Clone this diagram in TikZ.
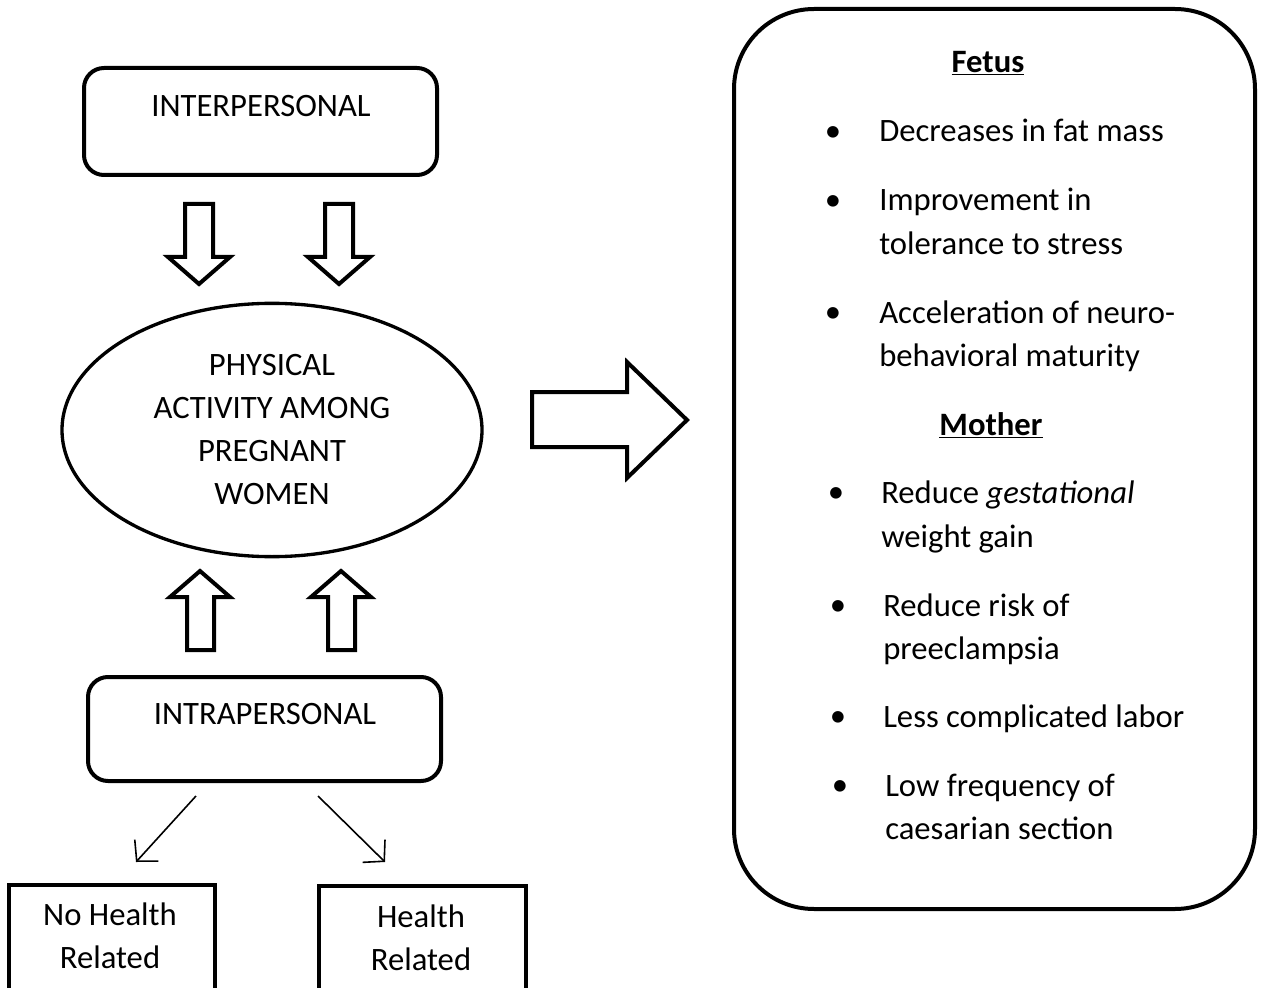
\documentclass[tikz,border=0pt]{standalone}
\usepackage{fontspec}
\setmainfont{Carlito}
\usetikzlibrary{arrows.meta,shapes.geometric,fit}
\begin{document}
\begin{tikzpicture}[x=0.75pt,y=-0.75pt,
  every node/.style={font=\fontsize{24.5}{32.25}\selectfont, inner sep=0pt},
  rbox/.style={draw, line width=3pt, rounded corners=15pt, inner sep=0pt},
  sbox/.style={draw, line width=3pt, inner sep=0pt},
  bigbox/.style={draw, line width=3pt, rounded corners=60pt, inner sep=0pt},
  blockarrow/.style={draw, line width=3pt, fill=white, line join=miter},
  thinarrow/.style={line width=1.2pt, -{Straight Barb[length=11pt,width=24pt,line width=1.2pt]}},
  item/.style={anchor=base west},
  bul/.style={anchor=center}]
\useasboundingbox (0,0) rectangle (1261,988);

% left column boxes
\node[rbox, fit={(84,68) (437,175)}] (inter) {};
\node (intertext) at (261,106) {INTERPERSONAL};

\node[draw, ellipse, line width=2.5pt, minimum width=315pt, minimum height=190pt, align=center] (pa) at (272,430)
  {PHYSICAL\\ACTIVITY AMONG\\PREGNANT\\WOMEN};

\node[rbox, fit={(88,677) (441,781)}] (intra) {};
\node (intratext) at (265,714) {INTRAPERSONAL};

\node[sbox, fit={(9,885) (215,1010)}] (nohealth) {};
\node[align=center] (nohealthtext) at (110,936) {No Health\\Related};
\node[sbox, fit={(319,886) (526,1010)}] (health) {};
\node[align=center] (healthtext) at (421,938) {Health\\Related};

% block arrows down
\draw[blockarrow] (185,204) -- (213,204) -- (213,257) -- (230,257) -- (199,284) -- (168,257) -- (185,257) -- cycle;
\draw[blockarrow] (325,204) -- (353,204) -- (353,257) -- (370,257) -- (339,284) -- (308,257) -- (325,257) -- cycle;
% block arrows up
\draw[blockarrow] (187,650) -- (214,650) -- (214,597) -- (230,597) -- (200,571) -- (170,597) -- (187,597) -- cycle;
\draw[blockarrow] (328,650) -- (355,650) -- (355,597) -- (371,597) -- (341,571) -- (311,597) -- (328,597) -- cycle;

% thin arrows
\coordinate (l1) at (196,796);
\coordinate (l2) at (136,862);
\coordinate (r1) at (318,796);
\coordinate (r2) at (385,862);
\draw[thinarrow] (l1) -- (l2);
\draw[thinarrow] (r1) -- (r2);

% big right arrow
\draw[blockarrow] (532,392) -- (627,392) -- (627,362) -- (687,420) -- (627,478) -- (627,447) -- (532,447) -- cycle;

% right box
\node[bigbox, fit={(734,9) (1255,909)}] (effects) {};

\node (fetus) at (988,63) {\textbf{\underline{Fetus}}};
\node[bul] at (833,134) {\textbullet};
\node[item] at (879,142) {Decreases in fat mass};
\node[bul] at (833,203) {\textbullet};
\node[item] at (879,211) {Improvement in};
\node[item] at (879,254) {tolerance to stress};
\node[bul] at (833,315) {\textbullet};
\node[item] at (879,323) {Acceleration of neuro-};
\node[item] at (879,366) {behavioral maturity};

\node (mother) at (991,425) {\textbf{\underline{Mother}}};
\node[bul] at (836,495) {\textbullet};
\node[item] at (881,503) {Reduce \textit{gestational}};
\node[item] at (881,547) {weight gain};
\node[bul] at (838,608) {\textbullet};
\node[item] at (883,616) {Reduce risk of};
\node[item] at (883,659) {preeclampsia};
\node[bul] at (838,719) {\textbullet};
\node[item] at (883,727) {Less complicated labor};
\node[bul] at (840,788) {\textbullet};
\node[item] at (885,796) {Low frequency of};
\node[item] at (885,839) {caesarian section};
\end{tikzpicture}
\end{document}
